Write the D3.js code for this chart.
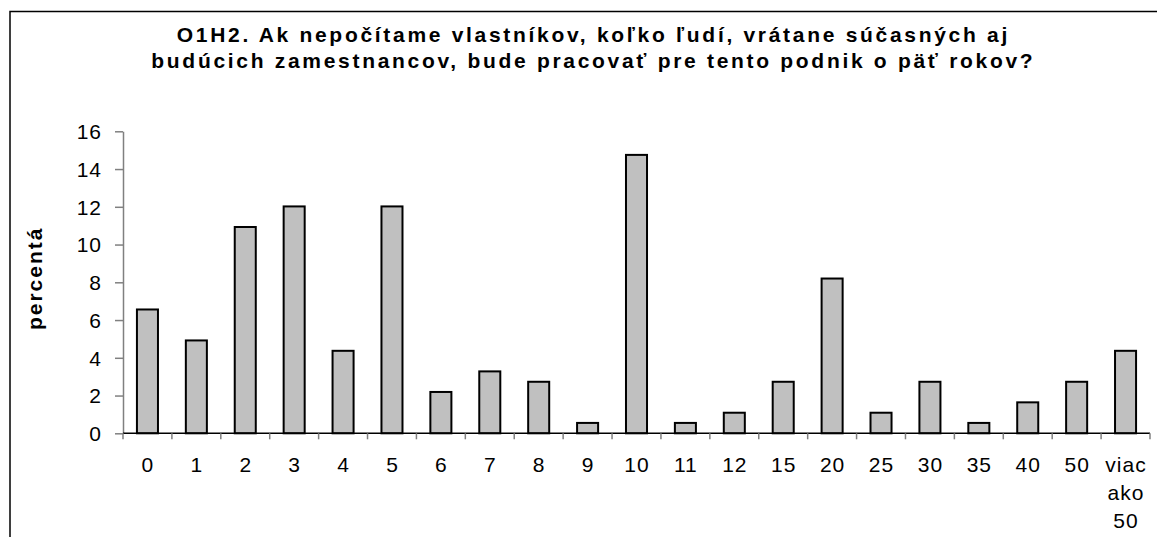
<!DOCTYPE html>
<html>
<head>
<meta charset="utf-8">
<script src="https://cdn.jsdelivr.net/npm/d3@7"></script>
<style>
  html, body { margin: 0; padding: 0; background: #fff; }
  svg { display: block; }
  text { font-family: "Liberation Sans", Arial, sans-serif; fill: #000; }
</style>
</head>
<body>
<svg id="chart" width="1157" height="537"></svg>
<script>
// ---- data ----
const categories = ["0","1","2","3","4","5","6","7","8","9","10","11","12","15","20","25","30","35","40","50","viac ako 50"];
const values = [6.56, 4.92, 10.93, 12.02, 4.37, 12.02, 2.19, 3.28, 2.73, 0.55, 14.75, 0.55, 1.09, 2.73, 8.20, 1.09, 2.73, 0.55, 1.64, 2.73, 4.37];
const yTicks = [0, 2, 4, 6, 8, 10, 12, 14, 16];
const titleLines = [
  "O1H2. Ak nepočítame vlastníkov, koľko ľudí, vrátane súčasných aj",
  "budúcich zamestnancov, bude pracovať pre tento podnik o päť rokov?"
];
const yTitle = "percentá";

// ---- layout ----
const svg = d3.select("#chart");
const plot = { left: 123, right: 1150, top: 131.3, bottom: 433.3 };

// outer frame (extends beyond right/bottom edges)
svg.append("rect")
  .attr("x", 10).attr("y", 11.5)
  .attr("width", 1300).attr("height", 700)
  .attr("fill", "none").attr("stroke", "#000").attr("stroke-width", 1.5);

// title
const tls = 2.7;
svg.append("g").selectAll("text").data(titleLines).join("text")
  .attr("x", 592 + tls / 2)
  .attr("y", (d, i) => 42 + i * 26)
  .attr("text-anchor", "middle")
  .attr("font-size", 21)
  .attr("font-weight", "bold")
  .attr("letter-spacing", tls)
  .text(d => d);

// scales
const x = d3.scaleBand().domain(categories).range([plot.left, plot.right]).paddingInner(0.57).paddingOuter(0.285);
const xb = d3.scaleBand().domain(categories).range([plot.left, plot.right]);
const y = d3.scaleLinear().domain([0, 16]).range([plot.bottom, plot.top]);

// y axis
const yAxis = svg.append("g")
  .attr("transform", `translate(${plot.left},0)`)
  .call(d3.axisLeft(y).tickValues(yTicks).tickSize(8).tickPadding(13).tickSizeOuter(0));
yAxis.select(".domain").attr("stroke", "#808080").attr("stroke-width", 1.5);
yAxis.selectAll(".tick line").attr("stroke", "#808080").attr("stroke-width", 1.5);
yAxis.selectAll(".tick text")
  .attr("font-size", 21)
  .attr("letter-spacing", 1)
  .attr("font-family", "Liberation Sans, Arial, sans-serif")
  .attr("fill", "#000")
  .attr("dy", "0.35em");

// y title
const yls = 2;
svg.append("text")
  .attr("transform", `translate(42,${(plot.top + plot.bottom) / 2 - 3 - yls / 2}) rotate(-90)`)
  .attr("text-anchor", "middle")
  .attr("font-size", 21)
  .attr("font-weight", "bold")
  .attr("letter-spacing", yls)
  .text(yTitle);

// bars
svg.append("g").selectAll("rect").data(values).join("rect")
  .attr("x", (d, i) => x(categories[i]))
  .attr("width", x.bandwidth())
  .attr("y", d => y(d))
  .attr("height", d => y(0) - y(d))
  .attr("fill", "#C0C0C0")
  .attr("stroke", "#000")
  .attr("stroke-width", 2);

// x axis line
svg.append("line")
  .attr("x1", plot.left).attr("x2", plot.right)
  .attr("y1", plot.bottom).attr("y2", plot.bottom)
  .attr("stroke", "#000").attr("stroke-width", 1.5);

// x ticks at band boundaries
const boundaries = categories.map(c => xb(c)).concat([plot.right]);
svg.append("g").selectAll("line").data(boundaries).join("line")
  .attr("x1", d => d).attr("x2", d => d)
  .attr("y1", plot.bottom).attr("y2", plot.bottom + 6)
  .attr("stroke", "#808080").attr("stroke-width", 1.5);

// x labels (wrapped)
const wrap = { "viac ako 50": ["viac", "ako", "50"] };
const xls = 1;
const xl = svg.append("g").selectAll("text").data(categories).join("text")
  .attr("text-anchor", "middle")
  .attr("font-size", 21)
  .attr("letter-spacing", xls);
xl.each(function(c) {
  const lines = wrap[c] || [c];
  const cx = xb(c) + xb.bandwidth() / 2 + xls / 2;
  d3.select(this).selectAll("tspan").data(lines).join("tspan")
    .attr("x", cx)
    .attr("y", (d, i) => 472 + i * 28)
    .text(d => d);
});
</script>
</body>
</html>
